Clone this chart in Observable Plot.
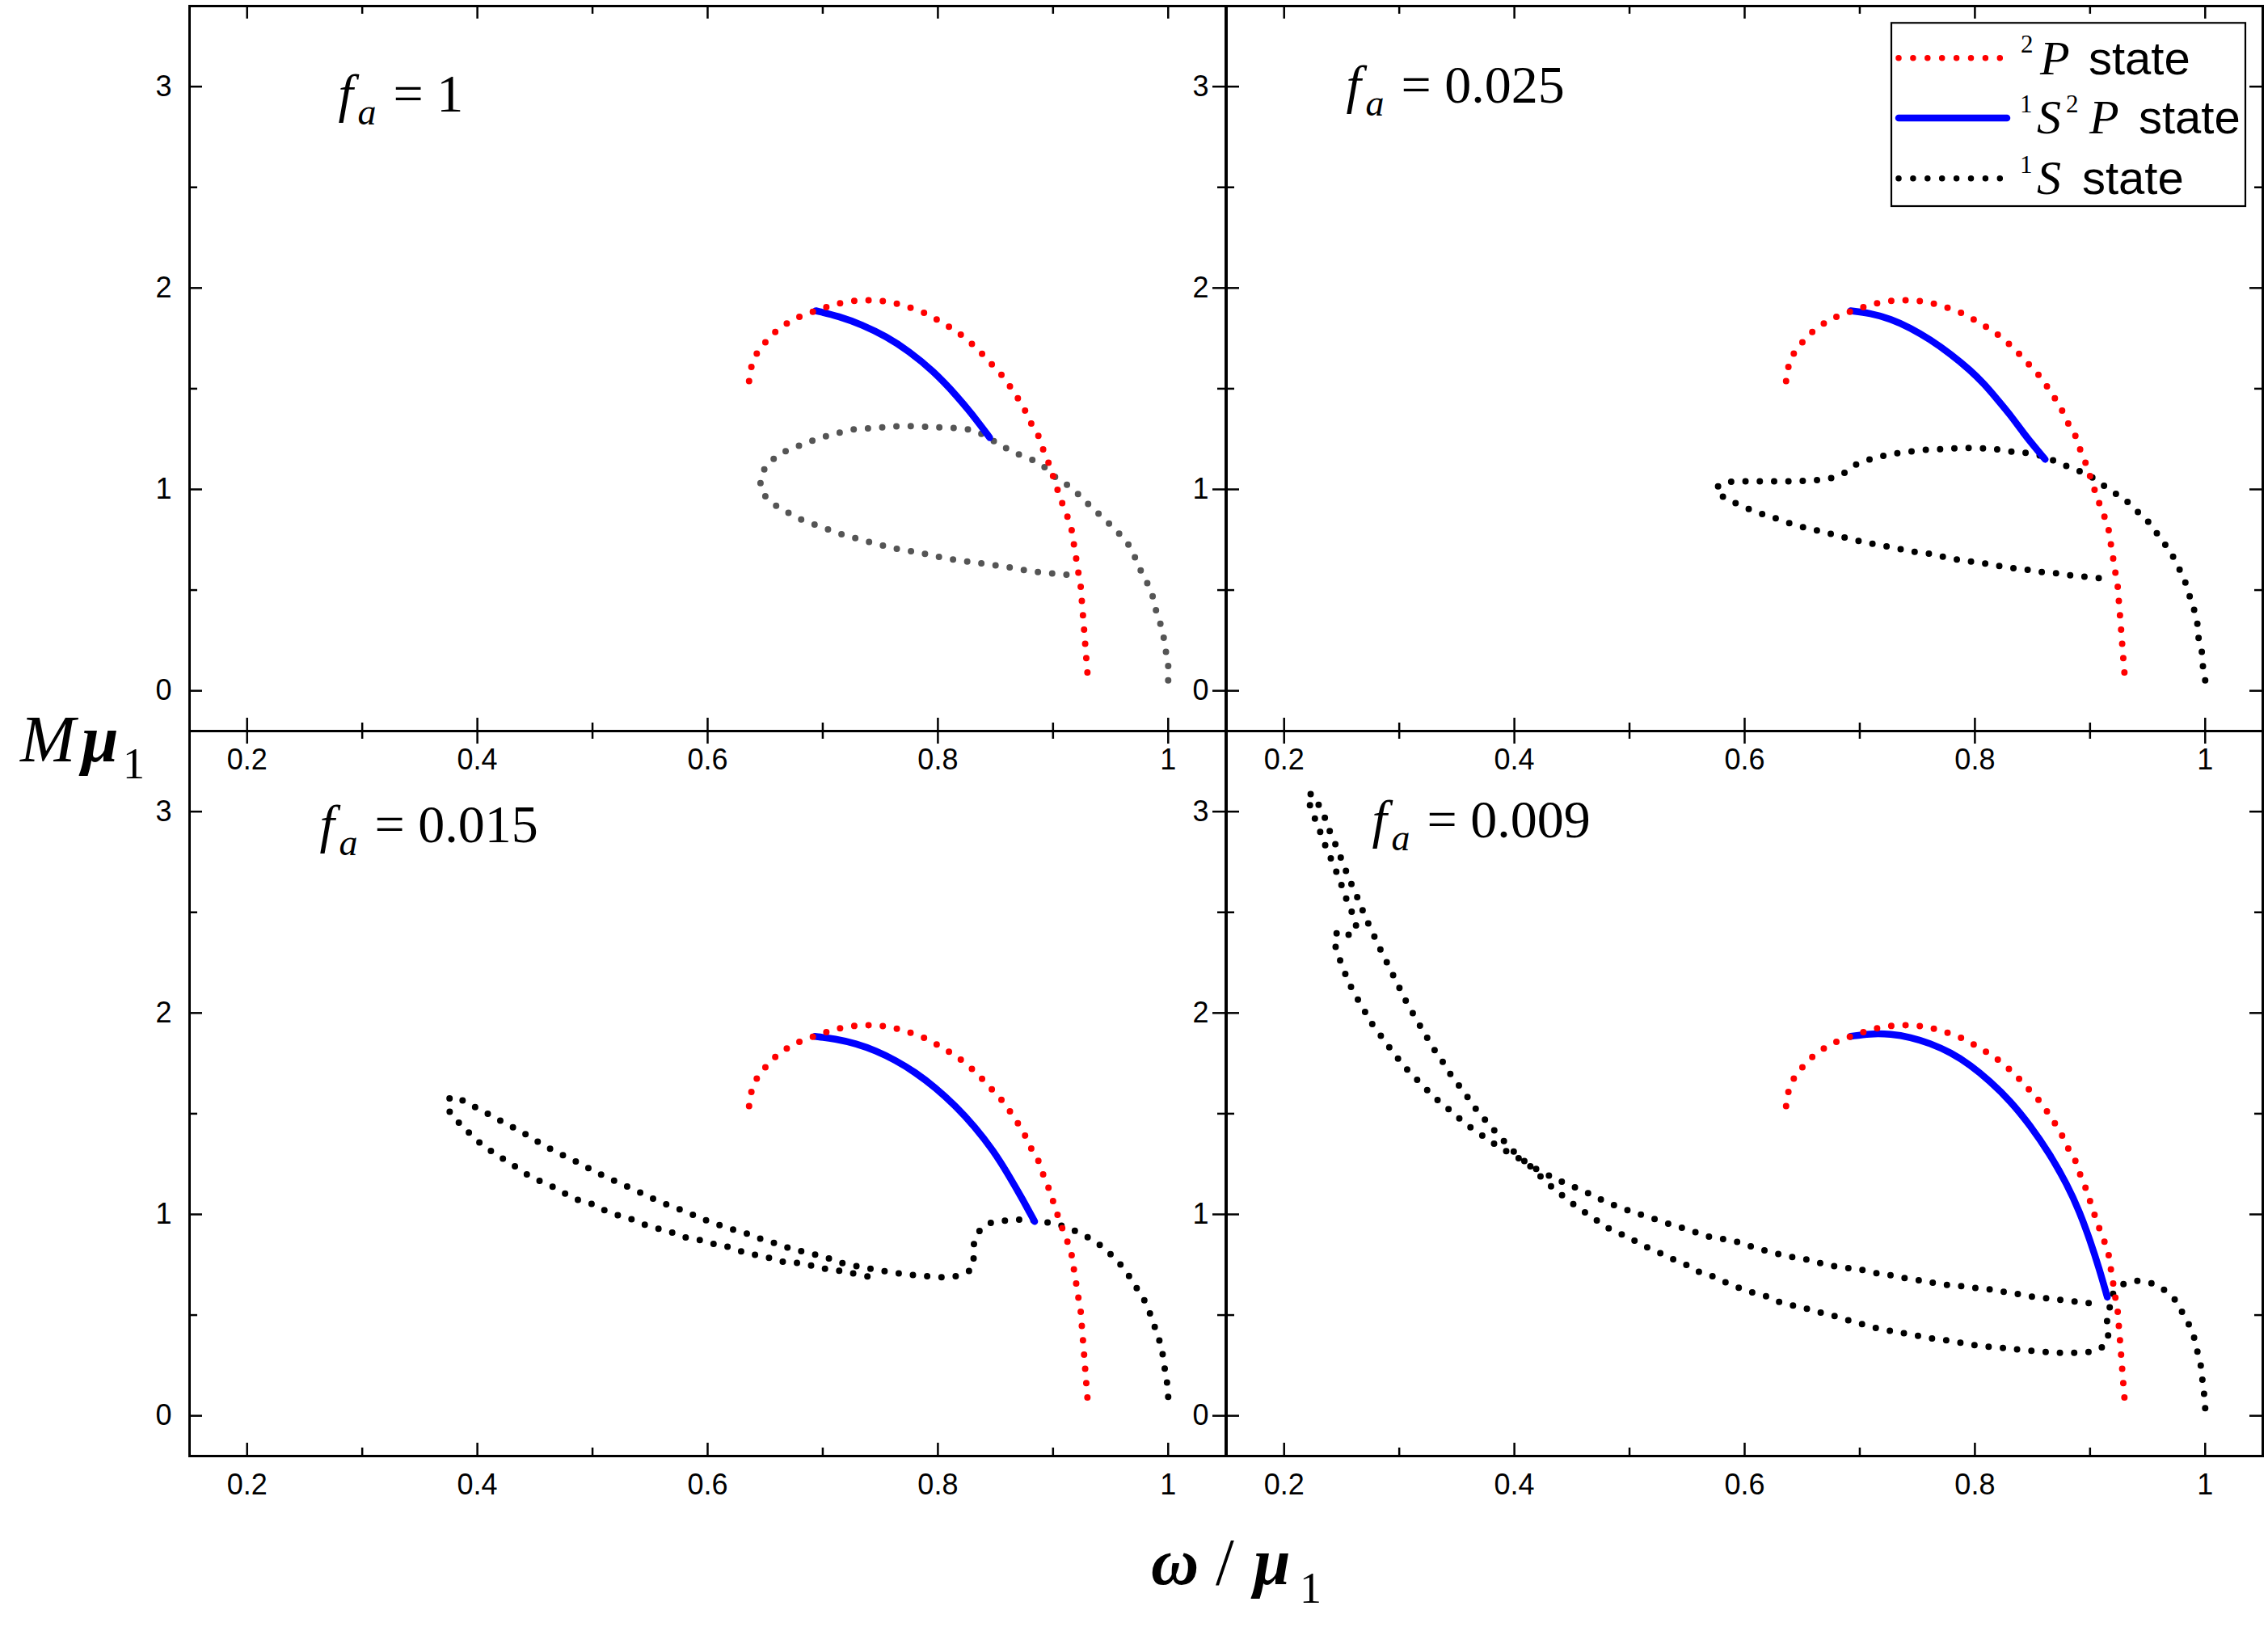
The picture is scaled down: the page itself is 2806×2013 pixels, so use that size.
<!DOCTYPE html>
<html><head><meta charset="utf-8">
<script src="https://cdn.jsdelivr.net/npm/d3@7"></script>
<script src="https://cdn.jsdelivr.net/npm/@observablehq/plot@0.6"></script>
<style>
body{margin:0;background:#fff;}
#wrap{position:relative;width:2806px;height:2013px;overflow:hidden;background:#fff;}
#wrap svg{position:absolute;max-width:none;overflow:visible;}
</style></head><body><div id="wrap"></div>
<script>
// ---- ticks ----
const xTicks = [0.2, 0.4, 0.6, 0.8, 1.0];
const xMinor = [0.3, 0.5, 0.7, 0.9];
const yTicks = [0, 1, 2, 3];
const yMinor = [0.5, 1.5, 2.5];
const faValues = ["1", "0.025", "0.015", "0.009"];
const seriesLabels = ["2P state", "1S2P state", "1S state"];

// ---- 2P state (same in every panel) ----
const red2P = [[0.636,1.538],[0.638,1.608],[0.643,1.677],[0.651,1.736],[0.660,1.788],[0.671,1.832],[0.682,1.863],[0.694,1.887],[0.705,1.908],[0.717,1.927],[0.730,1.937],[0.742,1.939],[0.754,1.934],[0.766,1.920],[0.779,1.896],[0.792,1.866],[0.803,1.830],[0.814,1.792],[0.825,1.745],[0.835,1.693],[0.843,1.644],[0.852,1.590],[0.860,1.533],[0.867,1.472],[0.874,1.413],[0.879,1.347],[0.886,1.283],[0.890,1.219],[0.895,1.149],[0.899,1.083],[0.903,1.014],[0.907,0.946],[0.912,0.873],[0.916,0.802],[0.918,0.731],[0.920,0.660],[0.922,0.587],[0.924,0.519],[0.925,0.446],[0.926,0.375],[0.927,0.302],[0.928,0.226],[0.929,0.153],[0.930,0.080]];

// ---- 1S2P state ----
const blue1 = [[0.694,1.887],[0.714,1.860],[0.734,1.818],[0.755,1.760],[0.775,1.686],[0.796,1.588],[0.816,1.468],[0.833,1.350],[0.845,1.257]];
const blue2 = [[0.692,1.887],[0.709,1.875],[0.727,1.847],[0.744,1.802],[0.761,1.745],[0.779,1.672],[0.796,1.592],[0.808,1.524],[0.819,1.450],[0.831,1.368],[0.842,1.281],[0.852,1.210],[0.861,1.149]];
const blue3 = [[0.693,1.884],[0.711,1.872],[0.729,1.848],[0.746,1.813],[0.763,1.766],[0.780,1.707],[0.798,1.629],[0.815,1.540],[0.832,1.436],[0.848,1.318],[0.862,1.190],[0.874,1.070],[0.884,0.965]];
const blue4 = [[0.692,1.884],[0.709,1.898],[0.727,1.896],[0.744,1.880],[0.761,1.850],[0.779,1.804],[0.796,1.742],[0.813,1.662],[0.831,1.562],[0.848,1.442],[0.865,1.300],[0.880,1.150],[0.891,1.012],[0.900,0.871],[0.908,0.730],[0.915,0.589]];

// ---- 1S state ----
const black1 = [[1.000,0.052],[1.000,0.125],[0.998,0.196],[0.996,0.267],[0.993,0.337],[0.989,0.408],[0.986,0.479],[0.981,0.545],[0.975,0.611],[0.970,0.677],[0.964,0.738],[0.954,0.800],[0.943,0.861],[0.933,0.913],[0.924,0.965],[0.913,1.019],[0.902,1.061],[0.894,1.104],[0.883,1.144],[0.868,1.179],[0.856,1.215],[0.845,1.252],[0.833,1.288],[0.821,1.302],[0.807,1.307],[0.795,1.309],[0.782,1.314],[0.769,1.314],[0.757,1.311],[0.745,1.304],[0.732,1.302],[0.719,1.288],[0.707,1.271],[0.695,1.250],[0.683,1.224],[0.670,1.196],[0.660,1.163],[0.651,1.116],[0.646,1.045],[0.648,0.983],[0.658,0.925],[0.669,0.887],[0.681,0.851],[0.693,0.825],[0.705,0.800],[0.717,0.776],[0.729,0.757],[0.741,0.738],[0.754,0.719],[0.766,0.703],[0.779,0.691],[0.791,0.677],[0.803,0.663],[0.816,0.649],[0.829,0.639],[0.841,0.630],[0.854,0.620],[0.867,0.608],[0.880,0.594],[0.892,0.587],[0.905,0.580],[0.917,0.573]];
const black2 = [[1.000,0.052],[0.998,0.125],[0.997,0.196],[0.994,0.271],[0.993,0.342],[0.990,0.410],[0.986,0.479],[0.982,0.550],[0.977,0.611],[0.971,0.677],[0.964,0.736],[0.957,0.790],[0.949,0.849],[0.940,0.896],[0.930,0.950],[0.919,0.991],[0.908,1.035],[0.898,1.073],[0.886,1.101],[0.873,1.132],[0.861,1.160],[0.848,1.179],[0.836,1.184],[0.823,1.196],[0.811,1.203],[0.798,1.205],[0.786,1.205],[0.774,1.200],[0.761,1.198],[0.748,1.191],[0.735,1.182],[0.723,1.170],[0.711,1.153],[0.698,1.127],[0.689,1.090],[0.677,1.059],[0.664,1.047],[0.651,1.042],[0.638,1.040],[0.626,1.040],[0.613,1.040],[0.600,1.040],[0.588,1.038],[0.580,1.028],[0.575,0.995],[0.586,0.948],[0.596,0.922],[0.610,0.887],[0.622,0.866],[0.634,0.842],[0.647,0.818],[0.659,0.802],[0.671,0.785],[0.683,0.767],[0.696,0.748],[0.708,0.733],[0.721,0.719],[0.734,0.705],[0.746,0.691],[0.759,0.682],[0.771,0.667],[0.783,0.653],[0.796,0.642],[0.809,0.632],[0.821,0.620],[0.834,0.608],[0.846,0.601],[0.858,0.590],[0.871,0.583],[0.884,0.573],[0.897,0.566],[0.909,0.559]];
const black3 = [[1.000,0.094],[0.999,0.165],[0.997,0.235],[0.995,0.311],[0.992,0.381],[0.988,0.447],[0.984,0.511],[0.979,0.577],[0.972,0.640],[0.965,0.702],[0.957,0.761],[0.948,0.812],[0.938,0.859],[0.926,0.899],[0.914,0.930],[0.901,0.954],[0.889,0.965],[0.876,0.975],[0.864,0.970],[0.851,0.965],[0.840,0.942],[0.832,0.871],[0.831,0.801],[0.830,0.735],[0.817,0.695],[0.805,0.688],[0.792,0.692],[0.779,0.699],[0.767,0.706],[0.754,0.718],[0.742,0.730],[0.730,0.742],[0.717,0.758],[0.705,0.782],[0.693,0.801],[0.680,0.819],[0.668,0.838],[0.656,0.862],[0.644,0.883],[0.632,0.909],[0.620,0.928],[0.608,0.951],[0.596,0.977],[0.585,1.003],[0.573,1.031],[0.561,1.057],[0.549,1.088],[0.538,1.118],[0.526,1.149],[0.515,1.177],[0.503,1.210],[0.492,1.243],[0.481,1.276],[0.469,1.309],[0.458,1.342],[0.447,1.380],[0.436,1.417],[0.424,1.453],[0.413,1.488],[0.402,1.521],[0.391,1.554],[0.379,1.585],[0.374,1.559],[0.378,1.488],[0.388,1.436],[0.396,1.385],[0.407,1.335],[0.417,1.295],[0.428,1.257],[0.439,1.213],[0.450,1.177],[0.462,1.147],[0.473,1.114],[0.484,1.078],[0.496,1.060],[0.507,1.029],[0.519,1.001],[0.531,0.982],[0.543,0.954],[0.555,0.932],[0.567,0.914],[0.579,0.888],[0.592,0.874],[0.604,0.855],[0.616,0.841],[0.629,0.817],[0.642,0.798],[0.655,0.782],[0.667,0.763],[0.679,0.758],[0.692,0.744],[0.704,0.728],[0.717,0.718],[0.729,0.704],[0.742,0.688]];
const black4 = [[1.000,0.038],[0.999,0.111],[0.9975,0.183],[0.996,0.255],[0.993,0.325],[0.990,0.395],[0.985,0.463],[0.979,0.525],[0.973,0.581],[0.962,0.634],[0.950,0.664],[0.937,0.668],[0.926,0.644],[0.919,0.595],[0.918,0.550],[0.915,0.514],[0.915,0.442],[0.915,0.369],[0.905,0.324],[0.892,0.315],[0.880,0.311],[0.867,0.315],[0.855,0.320],[0.841,0.327],[0.829,0.334],[0.816,0.341],[0.804,0.348],[0.792,0.358],[0.779,0.372],[0.766,0.381],[0.754,0.393],[0.741,0.407],[0.729,0.419],[0.716,0.433],[0.704,0.452],[0.692,0.471],[0.679,0.494],[0.667,0.511],[0.655,0.530],[0.643,0.546],[0.630,0.565],[0.619,0.593],[0.607,0.612],[0.595,0.636],[0.583,0.664],[0.571,0.695],[0.559,0.718],[0.548,0.753],[0.536,0.782],[0.525,0.812],[0.513,0.843],[0.502,0.876],[0.491,0.907],[0.480,0.937],[0.4716,0.970],[0.4610,1.011],[0.4504,1.054],[0.4403,1.100],[0.4312,1.143],[0.4211,1.197],[0.4117,1.249],[0.4018,1.285],[0.3911,1.320],[0.3806,1.358],[0.3700,1.400],[0.3592,1.443],[0.3498,1.488],[0.3406,1.534],[0.3315,1.577],[0.3221,1.630],[0.3129,1.684],[0.3040,1.738],[0.2971,1.787],[0.2899,1.841],[0.2831,1.894],[0.2760,1.950],[0.2734,1.976],[0.2678,2.030],[0.2628,2.080],[0.2577,2.134],[0.2536,2.188],[0.2494,2.249],[0.2459,2.309],[0.2435,2.364],[0.2482,2.410],[0.2584,2.386],[0.2624,2.429],[0.2595,2.490],[0.2548,2.555],[0.2506,2.624],[0.2466,2.683],[0.2417,2.752],[0.2365,2.821],[0.2322,2.887],[0.2275,2.954],[0.2240,3.010],[0.2200,3.082],[0.2259,3.082],[0.2306,3.025],[0.2353,2.971],[0.2395,2.905],[0.2435,2.851],[0.2475,2.798],[0.2518,2.732],[0.2558,2.678],[0.2607,2.610],[0.2659,2.545],[0.2703,2.478],[0.2760,2.411],[0.2812,2.344],[0.2868,2.280],[0.2924,2.214],[0.2981,2.150],[0.3035,2.084],[0.3098,2.019],[0.3164,1.953],[0.3228,1.891],[0.3294,1.827],[0.3369,1.765],[0.3435,1.704],[0.3512,1.645],[0.3588,1.587],[0.3663,1.526],[0.3747,1.469],[0.3835,1.411],[0.3928,1.353],[0.4022,1.297],[0.4117,1.252],[0.4222,1.215],[0.4340,1.182],[0.4446,1.154],[0.4571,1.123],[0.4688,1.092],[0.479,1.064],[0.491,1.036],[0.503,1.012],[0.515,0.989],[0.528,0.965],[0.540,0.942],[0.552,0.923],[0.563,0.899],[0.575,0.883],[0.588,0.871],[0.600,0.852],[0.612,0.829],[0.624,0.812],[0.636,0.793],[0.649,0.782],[0.661,0.765],[0.673,0.749],[0.686,0.735],[0.698,0.730],[0.711,0.711],[0.723,0.702],[0.735,0.688],[0.748,0.676],[0.760,0.664],[0.773,0.652],[0.786,0.645],[0.798,0.636],[0.811,0.629],[0.823,0.617],[0.835,0.607],[0.848,0.593],[0.861,0.584],[0.873,0.576],[0.886,0.568],[0.898,0.560],[0.911,0.557]];

const blues = [blue1, blue2, blue3, blue4];
const blacks = [black1, black2, black3, black4];
const blackColors = ["#555555", "#000000", "#000000", "#000000"];

// ---- layout (pixels) ----
const FW = 1282, FH = 897;
const ML = 130, MR = 20, MT = 20, MB = 90;
const frames = [{l:233.5,t:7.2},{l:1516.5,t:7.2},{l:233.5,t:903.5},{l:1516.5,t:903.5}];
const labelPos = [{dx:184,dy:130},{dx:148,dy:119},{dx:161,dy:137.5},{dx:180,dy:131.5}];

const wrap = document.getElementById("wrap");
const serif = "'Liberation Serif','Times New Roman',serif";
const sans = "'Liberation Sans',Arial,sans-serif";
const dotted = {strokeWidth: 8, strokeDasharray: "0 17.7", strokeLinecap: "round", curve: "catmull-rom"};

for (let i = 0; i < 4; i++) {
  const fr = frames[i], lp = labelPos[i];
  const svg = Plot.plot({
    width: FW + ML + MR, height: FH + MT + MB,
    marginLeft: ML, marginRight: MR, marginTop: MT, marginBottom: MB,
    x: {domain: [0.15, 1.05]},
    y: {domain: [-0.2, 3.4]},
    style: {fontFamily: sans, fontSize: "36px", color: "black", background: "transparent", overflow: "visible"},
    marks: [
      Plot.axisX({ticks: xTicks, tickSize: 0, tickPadding: 22, tickFormat: d => String(d), fontSize: 36}),
      Plot.axisY({ticks: yTicks, tickSize: 0, tickPadding: 22, tickFormat: d => String(d), fontSize: 36}),
      Plot.ruleX(xTicks, {x: d => d, insetTop: FH - 16, stroke: "black", strokeWidth: 2.5}),
      Plot.ruleX(xTicks, {x: d => d, insetBottom: FH - 16, stroke: "black", strokeWidth: 2.5}),
      Plot.ruleX(xMinor, {x: d => d, insetTop: FH - 10, stroke: "black", strokeWidth: 2.5}),
      Plot.ruleX(xMinor, {x: d => d, insetBottom: FH - 10, stroke: "black", strokeWidth: 2.5}),
      Plot.ruleY(yTicks, {y: d => d, insetRight: FW - 16, stroke: "black", strokeWidth: 2.5}),
      Plot.ruleY(yTicks, {y: d => d, insetLeft: FW - 16, stroke: "black", strokeWidth: 2.5}),
      Plot.ruleY(yMinor, {y: d => d, insetRight: FW - 10, stroke: "black", strokeWidth: 2.5}),
      Plot.ruleY(yMinor, {y: d => d, insetLeft: FW - 10, stroke: "black", strokeWidth: 2.5}),
      Plot.line(blacks[i], {x: d => d[0], y: d => d[1], stroke: blackColors[i], ...dotted}),
      Plot.line(blues[i], {x: d => d[0], y: d => d[1], stroke: "#0000ff", strokeWidth: 8.5, strokeLinecap: "round", curve: "basis"}),
      Plot.line(red2P, {x: d => d[0], y: d => d[1], stroke: "#ff0000", ...dotted}),
      Plot.frame({stroke: "black", strokeWidth: 3}),
      Plot.text(["f"], {text: d => d, frameAnchor: "top-left", dx: lp.dx, dy: lp.dy, textAnchor: "start", lineAnchor: "bottom", fontFamily: serif, fontStyle: "italic", fontSize: 66, fill: "black"}),
      Plot.text(["a"], {text: d => d, frameAnchor: "top-left", dx: lp.dx + 24, dy: lp.dy + 16, textAnchor: "start", lineAnchor: "bottom", fontFamily: serif, fontStyle: "italic", fontSize: 46, fill: "black"}),
      Plot.text([faValues[i]], {text: d => "= " + d, frameAnchor: "top-left", dx: lp.dx + 68, dy: lp.dy, textAnchor: "start", lineAnchor: "bottom", fontFamily: serif, fontSize: 66, fill: "black"})
    ]
  });
  svg.style.left = (fr.l - ML) + "px";
  svg.style.top = (fr.t - MT) + "px";
  wrap.appendChild(svg);
}

// ---- overlay: axis titles and legend ----
const ov = d3.select(wrap).append("svg")
  .attr("width", 2806).attr("height", 2013)
  .style("left", "0px").style("top", "0px");

// y title  M μ1
const yt = ov.append("text").attr("font-family", serif).attr("fill", "black");
yt.append("tspan").attr("x", 25).attr("y", 942).attr("font-size", 82).attr("font-style", "italic").text("M");
yt.append("tspan").attr("x", 101).attr("y", 942).attr("font-size", 82).attr("font-style", "italic").attr("font-weight", "bold").text("μ");
yt.append("tspan").attr("x", 152).attr("y", 963).attr("font-size", 54).text("1");

// x title  ω / μ1
const xt = ov.append("text").attr("font-family", serif).attr("fill", "black");
xt.append("tspan").attr("x", 1424).attr("y", 1960).attr("font-size", 82).attr("font-style", "italic").attr("font-weight", "bold").text("ω");
xt.append("tspan").attr("x", 1504).attr("y", 1960).attr("font-size", 82).text("/");
xt.append("tspan").attr("x", 1551).attr("y", 1960).attr("font-size", 82).attr("font-style", "italic").attr("font-weight", "bold").text("μ");
xt.append("tspan").attr("x", 1608).attr("y", 1983).attr("font-size", 54).text("1");

// legend
const lg = ov.append("g");
lg.append("rect").attr("x", 2340).attr("y", 28.3).attr("width", 438).attr("height", 226.7)
  .attr("fill", "white").attr("stroke", "black").attr("stroke-width", 2.2);
lg.append("line").attr("x1", 2349).attr("x2", 2476).attr("y1", 71.7).attr("y2", 71.7)
  .attr("stroke", "#ff0000").attr("stroke-width", 7.5).attr("stroke-dasharray", "0 17.9").attr("stroke-linecap", "round");
lg.append("line").attr("x1", 2349).attr("x2", 2483).attr("y1", 146).attr("y2", 146)
  .attr("stroke", "#0000ff").attr("stroke-width", 8.5).attr("stroke-linecap", "round");
lg.append("line").attr("x1", 2349).attr("x2", 2476).attr("y1", 220.7).attr("y2", 220.7)
  .attr("stroke", "#000000").attr("stroke-width", 7.5).attr("stroke-dasharray", "0 17.9").attr("stroke-linecap", "round");

function piece(x, y, txt, size, opts = {}) {
  const t = lg.append("text").attr("x", x).attr("y", y).attr("font-size", size)
    .attr("font-family", opts.sans ? sans : serif).attr("fill", "black").text(txt);
  if (opts.italic) t.attr("font-style", "italic");
}
// row 1: 2P state
piece(2500, 65, "2", 31);
piece(2524, 91.7, "P", 60, {italic: true});
piece(2584, 91.7, "state", 58, {sans: true});
// row 2: 1S2P state
piece(2499, 139, "1", 31);
piece(2520, 165, "S", 60, {italic: true});
piece(2556, 139, "2", 31);
piece(2585, 165, "P", 60, {italic: true});
piece(2646, 165, "state", 58, {sans: true});
// row 3: 1S state
piece(2499, 214, "1", 31);
piece(2520, 240, "S", 60, {italic: true});
piece(2576, 240, "state", 58, {sans: true});
</script></body></html>
